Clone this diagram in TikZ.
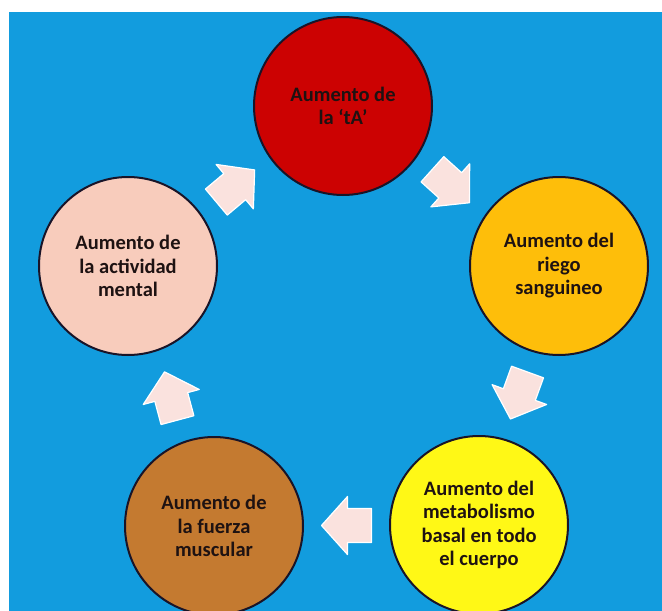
\documentclass[tikz,border=0pt]{standalone}
\usepackage{fontspec}
\setmainfont{Carlito}
\usetikzlibrary{calc}
\definecolor{bgblue}{RGB}{18,156,222}
\definecolor{cred}{RGB}{204,2,2}
\definecolor{corange}{RGB}{254,190,10}
\definecolor{cpink}{RGB}{248,204,188}
\definecolor{cbrown}{RGB}{196,122,48}
\definecolor{cyellow}{RGB}{255,248,22}
\definecolor{arrowpink}{RGB}{250,226,222}
\definecolor{rimdark}{RGB}{25,20,40}
\definecolor{txtdark}{RGB}{30,18,18}
\tikzset{
  bubble/.style={circle, draw=rimdark, line width=2pt, minimum size=178pt, inner sep=0pt,
    align=center, text=txtdark, font=\fontsize{20.5}{23.5}\selectfont\bfseries},
  arrowbody/.style={fill=arrowpink, draw=white, line width=1.2pt, line join=round},
  blockarrow/.pic={
    \path[arrowbody] (-25,-17) -- (-1,-17) -- (-1,-29) -- (25,0) -- (-1,29) -- (-1,17) -- (-25,17) -- cycle;
  }
}
\begin{document}
\begin{tikzpicture}[x=1pt,y=-1pt]
\useasboundingbox (0,0) rectangle (662,611);
\fill[white] (0,0) rectangle (662,611);
\begin{scope}
\clip (9,12) rectangle (662,611);
\fill[bgblue] (9,12) rectangle (662,611);
\node[bubble, fill=cred] (ta) at (343,106) {Aumento de\\la `tA'};
\node[bubble, fill=corange] (riego) at (559,266) {Aumento del\\riego\\sanguineo};
\node[bubble, fill=cyellow] (metab) at (479,525) {Aumento del\\metabolismo\\basal en todo\\el cuerpo};
\node[bubble, fill=cbrown] (fuerza) at (214,526) {Aumento de\\la fuerza\\muscular};
\node[bubble, fill=cpink] (mental) at (128,266) {Aumento de\\la actividad\\mental};
\pic[rotate=40] (a1) at ($(mental)!0.5!(ta)$) {blockarrow};
\pic[rotate=-42] (a2) at ($(ta)!0.5!(riego)$) {blockarrow};
\pic[rotate=-110] (a3) at ($(riego)!0.5!(metab)$) {blockarrow};
\pic[rotate=180] (a4) at ($(metab)!0.5!(fuerza)$) {blockarrow};
\pic[rotate=105] (a5) at ($(fuerza)!0.5!(mental)$) {blockarrow};
\end{scope}
\end{tikzpicture}
\end{document}
